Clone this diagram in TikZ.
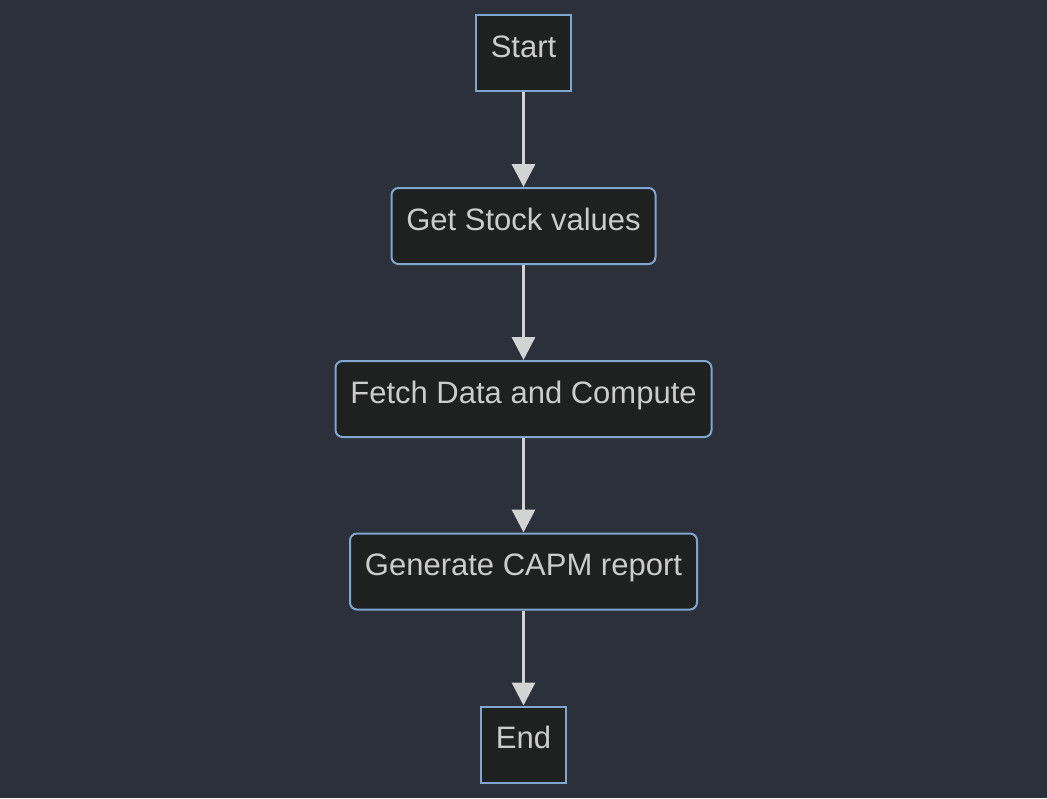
\documentclass[tikz,border=0pt]{standalone}
\usepackage{fontspec}
\setmainfont{Liberation Sans}
\usetikzlibrary{arrows.meta}
\definecolor{bg}{HTML}{2B303B}
\definecolor{boxfill}{HTML}{1F2020}
\definecolor{boxline}{HTML}{7EA6CF}
\definecolor{txt}{HTML}{CCCCCC}
\definecolor{arr}{HTML}{D3D3D3}
\tikzset{
  flowbox/.style={draw=boxline, fill=boxfill, line width=2pt, inner sep=0pt,
    text height=42pt, text depth=34pt, align=center, text=txt,
    font=\fontsize{31}{35}\selectfont},
  roundbox/.style={flowbox, rounded corners=7pt},
  flowarrow/.style={draw=arr, line width=3.3pt, -{Triangle[width=23pt,length=23pt]}}
}
\begin{document}
\begin{tikzpicture}[x=1pt,y=-1pt]
\fill[bg] (0,0) rectangle (1047,798);
\useasboundingbox (0,0) rectangle (1047,798);
\node[flowbox, minimum width=95pt] (start) at (523.5,53) {Start};
\node[roundbox, minimum width=264pt] (get) at (523.5,226) {Get Stock values};
\node[roundbox, minimum width=376pt] (fetch) at (523.5,399) {Fetch Data and Compute};
\node[roundbox, minimum width=347pt] (gen) at (523.5,571.5) {Generate CAPM report};
\node[flowbox, minimum width=85pt] (end) at (523.5,744.5) {End};
\draw[flowarrow] (start) -- (get);
\draw[flowarrow] (get) -- (fetch);
\draw[flowarrow] (fetch) -- (gen);
\draw[flowarrow] (gen) -- (end);
\end{tikzpicture}
\end{document}
